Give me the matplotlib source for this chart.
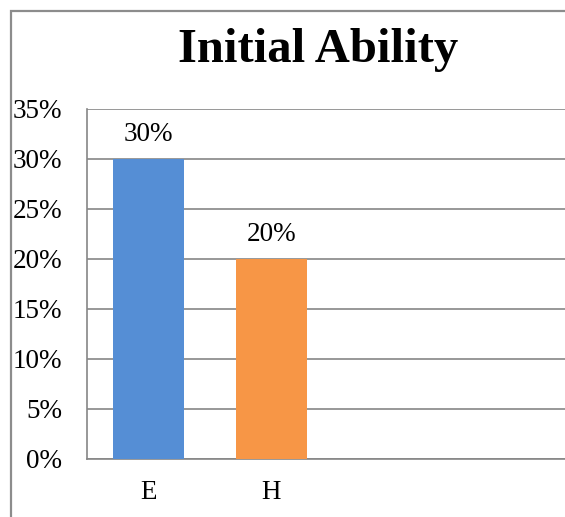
import matplotlib
matplotlib.use("Agg")
import matplotlib.pyplot as plt
from matplotlib.patches import Rectangle
from matplotlib.ticker import FuncFormatter, MultipleLocator

categories = ["E", "H", "", ""]
values = [0.30, 0.20, None, None]
colors = ["#558ED5", "#F79646"]
title = "Initial Ability"

plt.rcParams['font.family'] = ['Liberation Serif', 'DejaVu Serif']

W, H = 565, 517
fig = plt.figure(figsize=(W / 100, H / 100), dpi=100)
fig.patch.set_facecolor("white")

# outer chart border (cropped on right and bottom)
fig.patches.append(Rectangle((11 / W, -0.1), 2.0, (H - 11) / H + 0.1,
                             transform=fig.transFigure, fill=False,
                             edgecolor="#8C8C8C", linewidth=1.6, zorder=0))

left, right, top, bottom = 87, 579, 109, 459
ax = fig.add_axes([left / W, (H - bottom) / H, (right - left) / W, (bottom - top) / H])

xs = [i for i, v in enumerate(values) if v is not None]
vals = [v for v in values if v is not None]
bars = ax.bar(xs, vals, width=0.577, color=colors[:len(xs)], zorder=3)

for x, v in zip(xs, vals):
    ax.annotate(f"{v * 100:.0f}%", (x, v), xytext=(0, 8.5), textcoords="offset points",
                ha="center", va="bottom", fontsize=19.5, color="black")

ax.set_xlim(-0.5, len(categories) - 0.5)
ax.set_ylim(0, 0.35)
ax.yaxis.set_major_locator(MultipleLocator(0.05))
ax.yaxis.set_major_formatter(FuncFormatter(lambda v, p: f"{v * 100:.0f}%"))
ax.set_xticks(range(len(categories)))
ax.set_xticklabels(categories)

ax.grid(axis="y", color="#868686", linewidth=1.2, zorder=0)
ax.set_axisbelow(True)
for s in ["top", "right"]:
    ax.spines[s].set_visible(False)
for s in ["left", "bottom"]:
    ax.spines[s].set_color("#868686")
    ax.spines[s].set_linewidth(1.2)

ax.tick_params(axis="y", length=0, pad=18, labelsize=19.5)
ax.tick_params(axis="x", length=0, pad=15, labelsize=19.5)

fig.text(318 / W, 1 - 50 / H, title, ha="center", va="center",
         fontsize=35, fontweight="bold")

fig.savefig("out.png", dpi=100)
